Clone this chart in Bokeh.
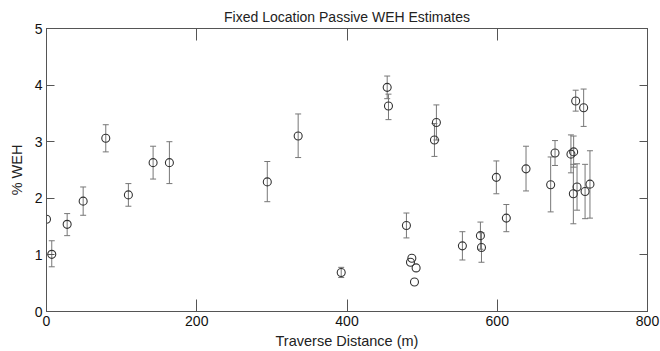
from bokeh.plotting import figure
from bokeh.models import ColumnDataSource, Whisker, LinearAxis, Range1d
from bokeh.embed import file_html
from bokeh.resources import INLINE

# Data
distance = [0, 7, 27.5, 48.8, 78.9, 109, 141.9, 163.6, 293.9, 335, 392.3, 453.5, 455.2,
            479.1, 486.3, 484.5, 492, 489.8, 516.4, 519, 553.6, 577.6, 579, 598.8, 612.1,
            638.3, 671.1, 676.9, 698.1, 701.7, 704.4, 701.3, 706.2, 715, 716.9, 723.4]
weh = [1.63, 1.01, 1.54, 1.95, 3.06, 2.06, 2.63, 2.63, 2.29, 3.10, 0.69, 3.96, 3.63,
       1.52, 0.94, 0.87, 0.77, 0.52, 3.03, 3.34, 1.16, 1.34, 1.13, 2.37, 1.65,
       2.52, 2.24, 2.80, 2.78, 2.82, 3.72, 2.08, 2.20, 3.60, 2.12, 2.25]
weh_upper = [None, 1.25, 1.73, 2.20, 3.30, 2.26, 2.92, 3.00, 2.65, 3.49, 0.78, 4.16, 3.84,
             1.74, None, None, None, None, 3.32, 3.65, 1.41, 1.58, 1.39, 2.66, 1.89,
             2.92, 2.73, 3.02, 3.12, 3.10, 3.91, 2.60, 2.61, 3.93, 2.60, 2.84]
weh_lower = [None, 0.79, 1.34, 1.70, 2.82, 1.86, 2.34, 2.26, 1.94, 2.72, 0.60, 3.76, 3.39,
             1.30, None, None, None, None, 2.74, 3.03, 0.91, 1.10, 0.87, 2.08, 1.41,
             2.13, 1.76, 2.58, 2.45, 2.55, 3.54, 1.55, 1.79, 3.27, 1.64, 1.65]

x_ticks = [0, 200, 400, 600, 800]
y_ticks = [0, 1, 2, 3, 4, 5]

FONT = "Liberation Sans"
AX = "#555555"

p = figure(width=660, height=351, output_backend="svg", toolbar_location=None,
           x_range=Range1d(0, 800), y_range=Range1d(0, 5),
           title="Fixed Location Passive WEH Estimates",
           min_border_left=46, min_border_right=13, min_border_top=28, min_border_bottom=39)
p.title.align = "center"
p.title.text_font = FONT
p.title.text_font_size = "14px"
p.title.text_font_style = "normal"
p.title.text_color = "#222222"
p.title.standoff = 7
p.grid.visible = False
p.outline_line_color = AX
p.outline_line_width = 1

def style_axis(ax, xaxis=True):
    ax.axis_line_color = AX
    ax.major_tick_line_color = AX
    ax.minor_tick_line_color = AX
    ax.major_tick_out = 0
    ax.minor_tick_out = 0
    if xaxis:
        ax.major_tick_in = 12
        ax.minor_tick_in = 6
    else:
        ax.major_tick_in = 8
        ax.minor_tick_in = 4
    ax.major_label_text_font = FONT
    ax.major_label_text_color = "#111111"
    ax.major_label_text_font_size = "14px"
    ax.major_label_standoff = 4
    ax.axis_label_text_font = FONT
    ax.axis_label_text_font_size = "14.5px"
    ax.axis_label_text_font_style = "normal"
    ax.axis_label_text_color = "#222222"

p.xaxis.ticker = x_ticks
p.xaxis.ticker.num_minor_ticks = 4
p.yaxis.ticker = y_ticks
p.yaxis.ticker.num_minor_ticks = 10
for ax in p.xaxis:
    style_axis(ax, True)
    ax.axis_label = "Traverse Distance (m)"
    ax.axis_label_standoff = 4
for ax in p.yaxis:
    style_axis(ax, False)
    ax.axis_label = "% WEH"
    ax.axis_label_standoff = 7

top = LinearAxis(ticker=x_ticks)
top.ticker.num_minor_ticks = 4
style_axis(top, True)
top.major_label_standoff = 0
top.major_label_overrides = {t: "" for t in x_ticks}
p.add_layout(top, "above")
right = LinearAxis(ticker=y_ticks)
right.ticker.num_minor_ticks = 10
style_axis(right, False)
right.major_label_standoff = 0
right.major_label_overrides = {t: "" for t in y_ticks}
p.add_layout(right, "right")

# error bars only where they are visible
ex, el, eu = [], [], []
for xi, lo, hi in zip(distance, weh_lower, weh_upper):
    if lo is not None and hi is not None:
        ex.append(xi); el.append(lo); eu.append(hi)
esrc = ColumnDataSource(dict(x=ex, lower=el, upper=eu))
w = Whisker(source=esrc, base="x", lower="lower", upper="upper",
            line_color="#777777", line_width=1)
w.upper_head.size = 6
w.lower_head.size = 6
w.upper_head.line_color = "#777777"
w.lower_head.line_color = "#777777"
p.add_layout(w)

src = ColumnDataSource(dict(x=distance, y=weh))
p.scatter("x", "y", source=src, size=8, marker="circle", fill_color="white",
          fill_alpha=0.0, line_color="#333333", line_width=1.1)

open("out.html", "w").write(file_html(p, INLINE))
